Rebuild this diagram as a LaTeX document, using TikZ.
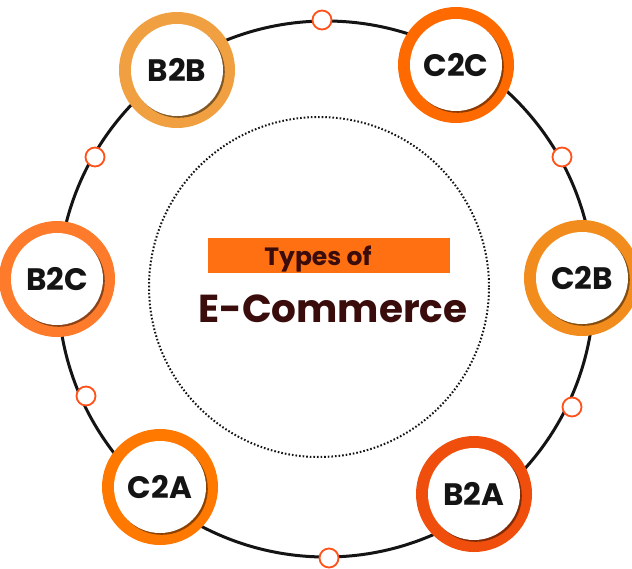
\documentclass[tikz,border=0pt]{standalone}
\usepackage{fontspec}
\setmainfont{Poppins}
\usetikzlibrary{shadows}
\definecolor{ink}{HTML}{141414}
\definecolor{maroon}{HTML}{3A0C0C}
\definecolor{banner}{HTML}{FF7012}
\definecolor{studred}{HTML}{FF5118}
\definecolor{amberring}{HTML}{F0A040}
\definecolor{flamering}{HTML}{FF6A00}
\definecolor{peachring}{HTML}{FF7B2C}
\definecolor{goldring}{HTML}{F28C1C}
\definecolor{tangering}{HTML}{FF7800}
\definecolor{emberring}{HTML}{F04E0C}
\tikzset{
  ring/.style={circle, fill=#1, minimum size=116pt, inner sep=0pt},
  face/.style={circle, fill=white, minimum size=92pt, inner sep=0pt, text=ink,
    font=\bfseries\fontsize{31}{31}\selectfont,
    drop shadow={shadow xshift=1.8pt, shadow yshift=-1.8pt, opacity=.45, fill=black}},
  stud/.style={circle, draw=studred, fill=white, line width=1.8pt, minimum size=19pt, inner sep=0pt},
  orbit/.style={line width=3pt, color=ink},
  inner orbit/.style={line width=2pt, color=ink, dash pattern=on 1.6pt off 2pt}
}
\begin{document}
\begin{tikzpicture}[x=1pt,y=-1pt]
  \useasboundingbox (0,0) rectangle (632,568);
  \fill[white] (0,0) rectangle (632,568);

  \coordinate (hub) at (326,289);
  \coordinate (core) at (319,287);
  \draw[orbit] (hub) circle[radius=268pt];
  \draw[inner orbit] (core) circle[radius=170pt];

  % centre title
  \node[fill=banner,minimum width=242pt,minimum height=35pt] (band) at (329,255) {};
  \node[anchor=base,text=maroon,font=\bfseries\fontsize{25}{25}\selectfont] (kind) at (318,265) {Types of};
  \node[anchor=base,text=maroon,font=\bfseries\fontsize{39}{39}\selectfont] (title) at (333,322) {E-Commerce};

  % the six models round the ring
  \foreach \name/\x/\y/\col in {B2B/177/70/amberring, C2C/456/65/flamering,
      B2C/57/279/peachring, C2B/582/278/goldring,
      C2A/160/487/tangering, B2A/474/494/emberring} {
    \node[ring=\col] (\name) at (\x,\y) {};
    \node[face] (\name-in) at (\name) {\name};
  }

  \foreach \i/\x/\y in {1/322/20, 2/95/157, 3/562/157, 4/86/396, 5/572/407, 6/329/558}
    \node[stud] (stud\i) at (\x,\y) {};
\end{tikzpicture}
\end{document}
